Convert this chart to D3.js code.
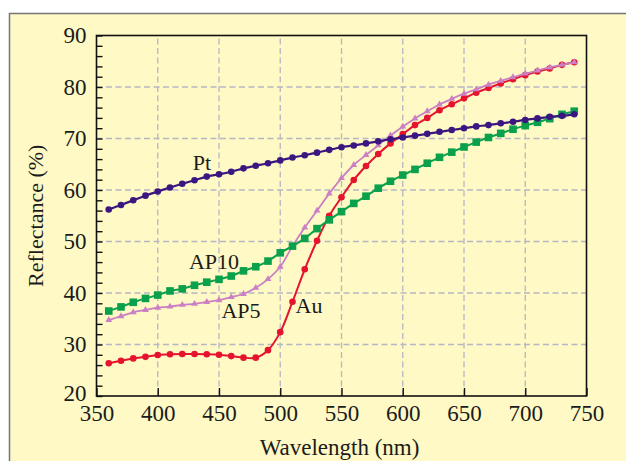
<!DOCTYPE html>
<html>
<head>
<meta charset="utf-8">
<script src="https://cdn.jsdelivr.net/npm/d3@7/dist/d3.min.js"></script>
<style>
  body { margin: 0; background: #fff; }
  svg text { font-family: "Liberation Serif", "DejaVu Serif", serif; fill: #1b1b1b; }
</style>
</head>
<body>
<svg id="chart" width="626" height="461"></svg>
<script>
// wavelength (nm) of every measured point
const wavelength = [360, 370, 380, 390, 400, 410, 420, 430, 440, 450, 460, 470, 480, 490,
  500, 510, 520, 530, 540, 550, 560, 570, 580, 590, 600, 610, 620, 630, 640, 650, 660,
  670, 680, 690, 700, 710, 720, 730, 740];

// reflectance (%)
const pt = [56.2, 57.1, 58.0, 58.9, 59.7, 60.5, 61.2, 61.9, 62.6, 63.05, 63.55, 64.2, 64.7,
  65.2, 65.75, 66.3, 66.75, 67.25, 67.8, 68.3, 68.65, 69.05, 69.45, 69.85, 70.2, 70.55,
  70.9, 71.3, 71.65, 72.0, 72.35, 72.6, 72.95, 73.25, 73.6, 73.9, 74.2, 74.4, 74.7];
const au = [26.35, 26.85, 27.3, 27.6, 27.95, 28.1, 28.15, 28.15, 28.1, 28.0, 27.75, 27.45,
  27.45, 28.9, 32.4, 38.3, 44.6, 50.15, 55.0, 58.6, 61.95, 64.65, 67.0, 69.05, 70.85,
  72.6, 74.0, 75.5, 76.65, 77.8, 78.9, 79.8, 80.7, 81.5, 82.3, 83.0, 83.6, 84.3, 84.8];
const ap5 = [34.75, 35.5, 36.25, 36.7, 37.15, 37.35, 37.7, 37.9, 38.25, 38.6, 39.2, 39.8,
  41.0, 42.7, 45.1, 49.1, 52.7, 56.0, 59.3, 62.3, 64.85, 66.8, 68.7, 70.6, 72.3, 73.9,
  75.3, 76.6, 77.7, 78.7, 79.55, 80.45, 81.2, 81.9, 82.6, 83.2, 83.8, 84.3, 84.8];
const ap10 = [36.5, 37.3, 38.2, 38.95, 39.6, 40.4, 40.8, 41.5, 42.1, 42.65, 43.3, 44.3, 45.1,
  46.2, 47.8, 49.1, 50.6, 52.5, 54.2, 55.8, 57.4, 58.8, 60.35, 61.7, 62.9, 64.0, 65.2,
  66.35, 67.35, 68.35, 69.3, 70.2, 71.0, 71.8, 72.5, 73.15, 73.85, 74.7, 75.3];

// axis ticks
const xTicks = [350, 400, 450, 500, 550, 600, 650, 700, 750];
const yTicks = [20, 30, 40, 50, 60, 70, 80, 90];
const yMinorTicks = [22, 24, 26, 28, 32, 34, 36, 38, 42, 44, 46, 48, 52, 54, 56, 58,
  62, 64, 66, 68, 72, 74, 76, 78, 82, 84, 86, 88];

// curve names and where they are written (wavelength, reflectance of baseline)
const labelNames = ['Pt', 'AP10', 'AP5', 'Au'];
const labelX = [428.5, 425.5, 452, 512.5];
const labelY = [63.9, 44.7, 35.1, 36.1];

const width = 626;
const height = 461;
const margin = { top: 35.5, left: 96.5, right: 39.5, bottom: 65 };
const FONT = '"Liberation Serif", "DejaVu Serif", serif';

const svg = d3.select('#chart');

// 外框和底色
svg.append('rect')
  .attr('x', 9.5).attr('y', 13.5)
  .attr('width', 700).attr('height', 500)
  .attr('fill', '#fef9c5')
  .attr('stroke', '#767676')
  .attr('stroke-width', 1.5);

const x = d3.scaleLinear().domain([350, 750]).range([margin.left, width - margin.right]);
const y = d3.scaleLinear().domain([20, 90]).range([height - margin.bottom, margin.top]);

// 辅助线
const grid = svg.append('g')
  .attr('stroke', '#b7b6c4')
  .attr('stroke-width', 1.3)
  .attr('stroke-dasharray', '6,3.5');

grid.selectAll('.gx')
  .data(xTicks.slice(1, -1))
  .join('line')
  .attr('x1', d => x(d)).attr('x2', d => x(d))
  .attr('y1', y(20)).attr('y2', y(90));

grid.selectAll('.gy')
  .data(yTicks.slice(1, -1))
  .join('line')
  .attr('y1', d => y(d)).attr('y2', d => y(d))
  .attr('x1', x(350)).attr('x2', x(750));

// 数轴
const leftAxis = d3.axisLeft(y)
  .tickValues(yTicks)
  .tickSize(-6)
  .tickPadding(10)
  .tickFormat(d3.format('d'));

const leftMinor = d3.axisLeft(y)
  .tickValues(yMinorTicks)
  .tickSize(-6)
  .tickFormat('');

const bottomAxis = d3.axisBottom(x)
  .tickValues(xTicks)
  .tickSize(-8)
  .tickPadding(9)
  .tickFormat(d3.format('d'));

function styleAxis(g) {
  g.select('.domain').remove();
  g.selectAll('.tick line').attr('stroke', '#111').attr('stroke-width', 1.4);
  g.selectAll('.tick text')
    .attr('font-size', 23)
    .attr('font-family', FONT)
    .attr('fill', '#1b1b1b');
}

const leftGroup = svg.append('g')
  .attr('transform', `translate(${margin.left},0)`)
  .call(leftAxis)
  .call(styleAxis);

// 最下面的刻度文字稍微上移,避开横轴文字
leftGroup.selectAll('.tick text')
  .filter(d => d === 20)
  .attr('dy', '0.18em');

svg.append('g')
  .attr('transform', `translate(${margin.left},0)`)
  .call(leftMinor)
  .call(styleAxis);

svg.append('g')
  .attr('transform', `translate(0,${height - margin.bottom})`)
  .call(bottomAxis)
  .call(styleAxis);

// 曲线
const series = [
  { values: au, color: '#e5132e', width: 2, marker: 'circle' },
  { values: ap5, color: '#cb7fc4', width: 1.8, marker: 'triangle' },
  { values: ap10, color: '#0ba04b', width: 2, marker: 'square' },
  { values: pt, color: '#3b1680', width: 2.2, marker: 'circle' }
];

const line = d3.line()
  .x(d => x(d[0]))
  .y(d => y(d[1]))
  .curve(d3.curveCatmullRom);

series.forEach(s => {
  const pts = wavelength.map((w, i) => [w, s.values[i]]);
  const g = svg.append('g');

  g.append('path')
    .attr('d', line(pts))
    .attr('fill', 'none')
    .attr('stroke', s.color)
    .attr('stroke-width', s.width);

  if (s.marker === 'circle') {
    g.selectAll('circle')
      .data(pts)
      .join('circle')
      .attr('cx', d => x(d[0]))
      .attr('cy', d => y(d[1]))
      .attr('r', 3.3)
      .attr('fill', s.color);
  } else if (s.marker === 'square') {
    g.selectAll('rect')
      .data(pts)
      .join('rect')
      .attr('x', d => x(d[0]) - 3.8)
      .attr('y', d => y(d[1]) - 3.8)
      .attr('width', 7.6)
      .attr('height', 7.6)
      .attr('fill', s.color);
  } else {
    const tri = d3.symbol().type(d3.symbolTriangle).size(20);
    g.selectAll('path.m')
      .data(pts)
      .join('path')
      .attr('class', 'm')
      .attr('d', tri)
      .attr('transform', d => `translate(${x(d[0])},${y(d[1])})`)
      .attr('fill', s.color);
  }
});

// 图框
svg.append('rect')
  .attr('x', margin.left).attr('y', margin.top)
  .attr('width', width - margin.left - margin.right)
  .attr('height', height - margin.top - margin.bottom)
  .attr('fill', 'none')
  .attr('stroke', '#111')
  .attr('stroke-width', 1.6);

// 曲线名称
svg.selectAll('.series-label')
  .data(labelNames)
  .join('text')
  .attr('class', 'series-label')
  .attr('x', (d, i) => x(labelX[i]))
  .attr('y', (d, i) => y(labelY[i]))
  .attr('font-size', 22)
  .text(d => d);

// 轴标题
svg.append('text')
  .attr('x', (margin.left + width - margin.right) / 2 - 2)
  .attr('y', 455)
  .attr('text-anchor', 'middle')
  .attr('font-size', 23)
  .text('Wavelength (nm)');

svg.append('text')
  .attr('transform', `translate(43,${(margin.top + height - margin.bottom) / 2}) rotate(-90)`)
  .attr('text-anchor', 'middle')
  .attr('font-size', 22)
  .text('Reflectance (%)');
</script>
</body>
</html>
